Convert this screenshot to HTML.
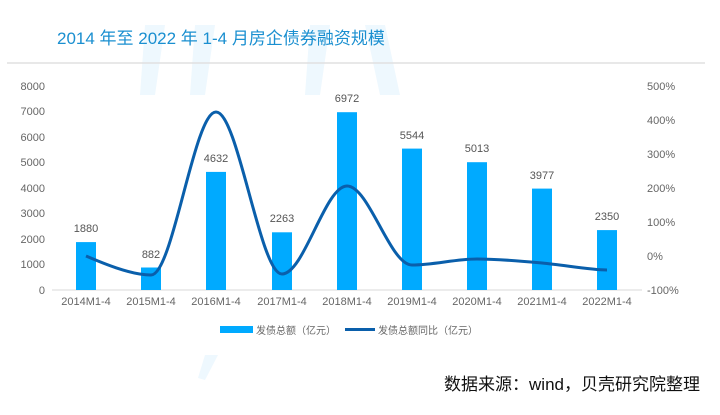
<!DOCTYPE html>
<html><head><meta charset="utf-8"><style>
body{margin:0;background:#fff;}
svg{display:block;font-family:"Liberation Sans","Noto Sans CJK SC",sans-serif;}
</style></head><body>
<svg width="720" height="415" viewBox="0 0 720 415">
<g fill="#eef8fe">
<polygon points="145,25 165,25 155,95 140,95"/>
<polygon points="195,25 215,25 205,95 190,95"/>
<polygon points="310,25 330,25 320,95 305,95"/>
<polygon points="365,25 385,25 400,95 380,95"/>
<polygon points="205,355 218,355 205,380 198,378"/>
</g>
<text x="57" y="44" font-size="17" fill="#1a8fd0" font-family="Liberation Sans,Noto Sans CJK SC,sans-serif">2014 年至 2022 年 1-4 月房企债券融资规模</text>
<line x1="7" y1="63" x2="705" y2="63" stroke="#e0e0e0" stroke-width="1.5"/>
<g font-size="11" fill="#666" text-anchor="end">
<text x="45" y="90">8000</text><text x="45" y="115">7000</text><text x="45" y="141">6000</text>
<text x="45" y="166">5000</text><text x="45" y="192">4000</text><text x="45" y="217">3000</text>
<text x="45" y="243">2000</text><text x="45" y="268">1000</text><text x="45" y="294">0</text>
</g>
<g font-size="11" fill="#666">
<text x="647" y="90">500%</text><text x="647" y="124">400%</text><text x="647" y="158">300%</text>
<text x="647" y="192">200%</text><text x="647" y="226">100%</text><text x="647" y="260">0%</text>
<text x="647" y="294">-100%</text>
</g>
<line x1="52" y1="290" x2="642" y2="290" stroke="#d9d9d9" stroke-width="1"/>
<g fill="#00aaff">
<rect x="76" y="242.1" width="20" height="47.9"/>
<rect x="141" y="267.5" width="20" height="22.5"/>
<rect x="206" y="171.9" width="20" height="118.1"/>
<rect x="272" y="232.3" width="20" height="57.7"/>
<rect x="337" y="112.2" width="20" height="177.8"/>
<rect x="402" y="148.6" width="20" height="141.4"/>
<rect x="467" y="162.2" width="20" height="127.8"/>
<rect x="532" y="188.6" width="20" height="101.4"/>
<rect x="597" y="230.1" width="20" height="59.9"/>
</g>
<g font-size="11" fill="#555" text-anchor="middle">
<text x="86" y="232">1880</text><text x="151" y="258">882</text><text x="216" y="162">4632</text>
<text x="282" y="222">2263</text><text x="347" y="102">6972</text><text x="412" y="139">5544</text>
<text x="477" y="152">5013</text><text x="542" y="179">3977</text><text x="607" y="220">2350</text>
</g>
<path d="M86,256 C100,262 130,275 151,275 C173,275 194,112 216,112 C238,112 260,274 282,274 C304,274 325,186 347,186 C369,186 390,265 412,265 C434,265 455,259 477,259 C499,259 520,261 542,263 C564,265 590,270 607,270" fill="none" stroke="#0a5fab" stroke-width="3"/>
<g font-size="11" fill="#666" text-anchor="middle">
<text x="86" y="305">2014M1-4</text><text x="151" y="305">2015M1-4</text><text x="216" y="305">2016M1-4</text>
<text x="282" y="305">2017M1-4</text><text x="347" y="305">2018M1-4</text><text x="412" y="305">2019M1-4</text>
<text x="477" y="305">2020M1-4</text><text x="542" y="305">2021M1-4</text><text x="607" y="305">2022M1-4</text>
</g>
<rect x="220" y="326" width="33" height="7" fill="#00aaff"/>
<text x="256" y="334" font-size="10" fill="#666">发债总额（亿元）</text>
<rect x="345" y="328" width="30" height="3" fill="#0a5fab"/>
<text x="378" y="334" font-size="10" fill="#666">发债总额同比（亿元）</text>
<text x="700" y="390" font-size="17" fill="#111" text-anchor="end">数据来源：wind，贝壳研究院整理</text>
</svg>
</body></html>
